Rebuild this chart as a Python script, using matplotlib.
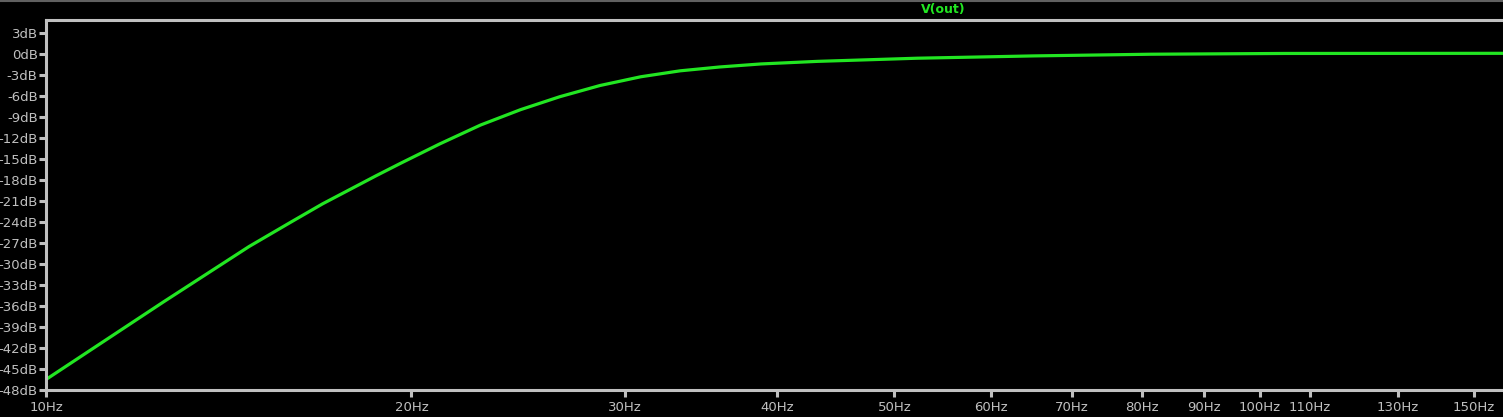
import matplotlib
matplotlib.use("Agg")
import matplotlib.pyplot as plt
from matplotlib.lines import Line2D

freq_hz = [10.0, 12.5, 14.7, 15.9, 16.9, 18.7, 19.6, 21.1, 22.8, 24.6, 26.5, 28.6,
           30.9, 33.3, 35.9, 38.8, 43.2, 52.2, 65.1, 81.3, 104.7, 159.0]
gain_db = [-46.5, -35.4, -27.5, -24.05, -21.4, -17.4, -15.6, -12.85, -10.15, -7.95, -6.1, -4.5,
           -3.25, -2.4, -1.85, -1.42, -1.05, -0.6, -0.27, -0.03, 0.08, 0.1]

x_ticks = [10, 20, 30, 40, 50, 60, 70, 80, 90, 100, 110, 130, 150]
x_labels = [f"{v}Hz" for v in x_ticks]
y_ticks = list(range(-48, 4, 3))
y_labels = [f"{v}dB" for v in y_ticks]

W, H = 1503, 417
fig = plt.figure(figsize=(W / 100, H / 100), dpi=100, facecolor="black")
ax = fig.add_axes([46 / W, 1 - 390 / H, (W - 46) / W, (390 - 20) / H])
ax.set_facecolor("black")

ax.plot(freq_hz, gain_db, color="#22e622", lw=2.3, solid_joinstyle="round",
        solid_capstyle="round")

ax.set_xscale("log")
ax.set_xlim(10, 158.6)
ax.set_ylim(-48, 4.86)
ax.set_xticks(x_ticks)
ax.set_xticklabels(x_labels)
ax.minorticks_off()
ax.set_yticks(y_ticks)
ax.set_yticklabels(y_labels)

gray = "#c0c0c0"
for s in ["left", "bottom", "top"]:
    ax.spines[s].set_color(gray)
    ax.spines[s].set_linewidth(2.2)
ax.spines["right"].set_visible(False)
ax.tick_params(axis="both", colors=gray, labelcolor=gray, length=5, width=2.2,
               labelsize=9.5)
ax.tick_params(axis="y", pad=1)
ax.tick_params(axis="x", pad=3)
for lab in ax.get_xticklabels() + ax.get_yticklabels():
    lab.set_fontfamily("DejaVu Sans")

fig.add_artist(Line2D([0, 1], [1 - 0.5 / H, 1 - 0.5 / H], transform=fig.transFigure,
                      color="#606060", lw=1.5))
fig.text(943 / W, 1 - 9 / H, "V(out)", color="#22e622", fontsize=9,
         ha="center", va="center", fontweight="bold")

fig.savefig("out.png", dpi=100, facecolor="black")
